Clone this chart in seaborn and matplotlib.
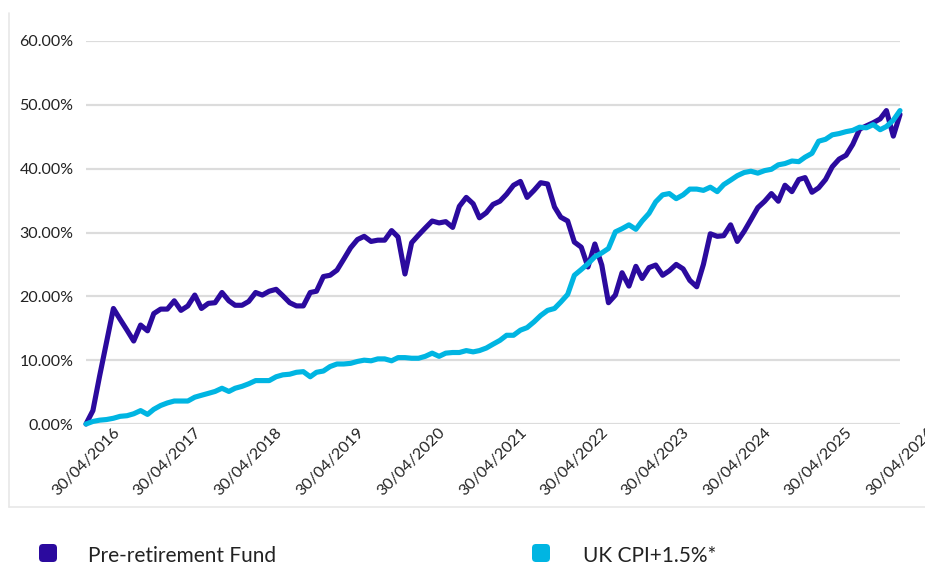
import seaborn as sns
import matplotlib.pyplot as plt
import matplotlib.dates as mdates
from matplotlib.patches import FancyBboxPatch
from matplotlib.lines import Line2D
import pandas as pd

sns.set_theme(style="white")
plt.rcParams['font.family'] = ['Lato', 'DejaVu Sans']

# cumulative growth (%) month by month, 30/04/2016 -> 30/04/2026
fund = [0.0, 2.1, 7.5, 12.8, 18.1, 16.4, 14.7, 13.0, 15.5, 14.6,
        17.3, 18.0, 18.0, 19.3, 17.8, 18.5, 20.2, 18.1, 18.9, 19.0,
        20.6, 19.3, 18.6, 18.6, 19.2, 20.6, 20.2, 20.8, 21.1, 20.1,
        19.0, 18.5, 18.5, 20.6, 20.8, 23.1, 23.3, 24.1, 25.8, 27.6,
        28.9, 29.4, 28.6, 28.8, 28.8, 30.3, 29.3, 23.5, 28.4, 29.6,
        30.7, 31.8, 31.5, 31.7, 30.8, 34.1, 35.5, 34.5, 32.3, 33.1,
        34.4, 34.9, 36.0, 37.4, 38.0, 35.5, 36.6, 37.8, 37.6, 34.0,
        32.4, 31.8, 28.5, 27.7, 24.6, 28.2, 24.9, 19.0, 20.2, 23.7,
        21.6, 24.7, 22.8, 24.5, 24.9, 23.3, 24.0, 25.0, 24.3, 22.5,
        21.5, 25.0, 29.8, 29.4, 29.5, 31.2, 28.6, 30.2, 32.0, 33.9,
        34.9, 36.1, 34.9, 37.4, 36.4, 38.3, 38.6, 36.3, 37.0, 38.3,
        40.3, 41.5, 42.1, 43.8, 46.2, 46.7, 47.2, 47.8, 49.1, 45.1,
        48.5]
cpi = [0.0, 0.4, 0.6, 0.7, 0.9, 1.2, 1.3, 1.6, 2.1, 1.5,
       2.3, 2.9, 3.3, 3.6, 3.6, 3.6, 4.2, 4.5, 4.8, 5.1,
       5.6, 5.1, 5.6, 5.9, 6.3, 6.8, 6.8, 6.8, 7.4, 7.7,
       7.8, 8.1, 8.2, 7.4, 8.1, 8.3, 9.0, 9.4, 9.4, 9.5,
       9.8, 10.0, 9.9, 10.2, 10.2, 9.9, 10.4, 10.4, 10.3, 10.3,
       10.6, 11.1, 10.6, 11.1, 11.2, 11.2, 11.5, 11.3, 11.5, 11.9,
       12.5, 13.1, 13.9, 13.9, 14.7, 15.1, 16.0, 17.0, 17.8, 18.1,
       19.1, 20.3, 23.3, 24.2, 25.1, 26.2, 26.8, 27.5, 30.1, 30.6,
       31.2, 30.5, 31.8, 33.0, 34.8, 35.9, 36.1, 35.3, 35.9, 36.8,
       36.8, 36.6, 37.1, 36.4, 37.5, 38.2, 38.9, 39.4, 39.6, 39.3,
       39.7, 39.9, 40.6, 40.8, 41.2, 41.1, 41.8, 42.4, 44.3, 44.6,
       45.3, 45.5, 45.8, 46.0, 46.5, 46.4, 46.9, 46.1, 46.6, 47.6,
       49.1]
labels = ["Pre-retirement Fund", "UK CPI+1.5%*"]
colors = ["#2B0A9E", "#00B5E2"]

dates = pd.date_range("2016-04-30", periods=len(fund), freq="ME")
df = pd.DataFrame({"date": list(dates) * 2,
                   "value": fund + cpi,
                   "series": [labels[0]] * len(fund) + [labels[1]] * len(cpi)})

fig = plt.figure(figsize=(9.25, 5.66), dpi=100)
ax = fig.add_axes([86 / 925, 1 - 424 / 566, 814 / 925, 383 / 566])

sns.lineplot(data=df, x="date", y="value", hue="series", palette=colors,
             linewidth=3.7, legend=False, ax=ax)
for ln in ax.lines:
    ln.set_clip_on(False)
    ln.set_solid_joinstyle("round")
    ln.set_solid_capstyle("round")

ax.set_xlim(dates[0], dates[-1])
ax.set_ylim(0, 60)
ax.set_yticks(range(0, 61, 10))
ax.set_yticklabels([f"{v:.2f}%" for v in range(0, 61, 10)])
ax.set_xticks(dates[::12])
ax.xaxis.set_major_formatter(mdates.DateFormatter("%d/%m/%Y"))
ax.tick_params(axis="x", labelrotation=45, labelsize=11.5, pad=1, colors="#222222", length=0)
ax.tick_params(axis="y", labelsize=11.5, pad=9, colors="#222222", length=0)
ax.grid(axis="y", color="#dcdcdc", linewidth=1.6)
ax.set_axisbelow(True)
ax.set_xlabel("")
ax.set_ylabel("")
for s in ax.spines.values():
    s.set_visible(False)

# light frame round the chart area
fig.add_artist(Line2D([9 / 925, 9 / 925], [59 / 566, 553 / 566], color="#e8e8e8", lw=1.2))
fig.add_artist(Line2D([9 / 925, 1], [59 / 566, 59 / 566], color="#e8e8e8", lw=1.2))

# legend
for (mx, tx), lab, c in zip([(39, 88), (532, 583)], labels, colors):
    fig.add_artist(FancyBboxPatch((mx, 4), 18, 18, boxstyle="round,pad=0,rounding_size=4",
                                  facecolor=c, edgecolor="none", transform=None))
    fig.text(tx / 925, 10 / 566, lab, fontsize=15, color="#222222", va="center")

fig.savefig("out.png", dpi=100)
